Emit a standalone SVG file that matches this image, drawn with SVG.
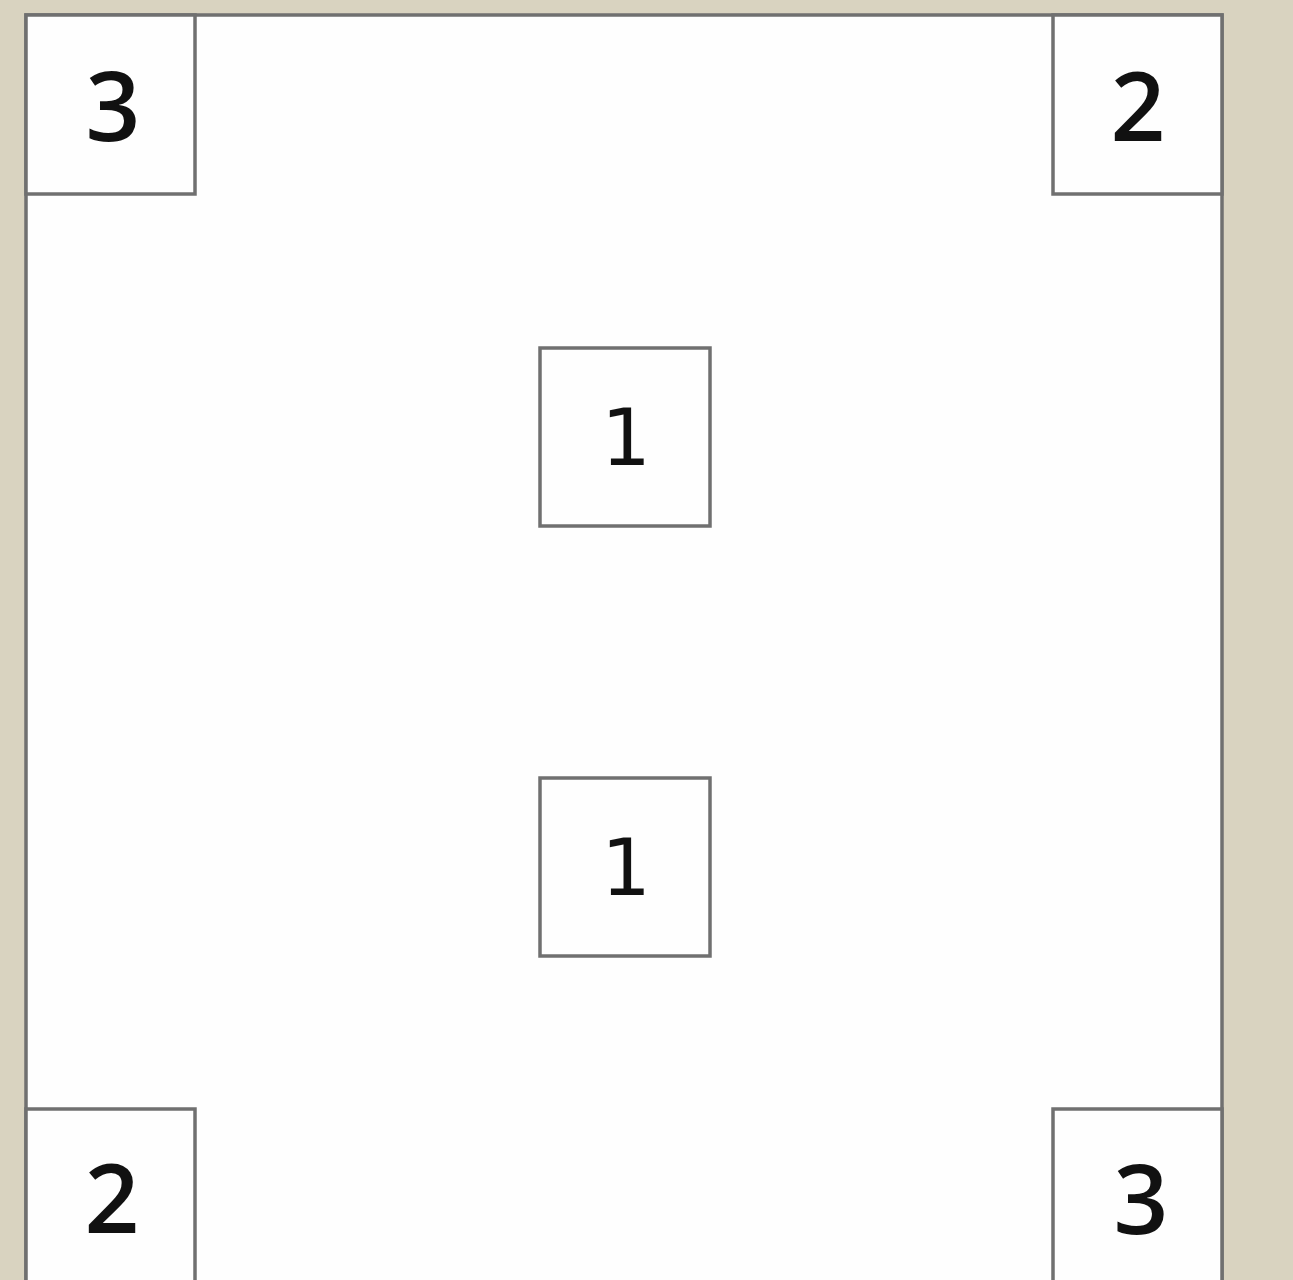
<svg xmlns="http://www.w3.org/2000/svg" width="1293" height="1280" viewBox="0 0 1293 1280">
<style>
.box{fill:#fefefe;stroke:#707070;stroke-width:3.5}
.big{font-family:"Open Sans","Noto Sans",sans-serif;font-weight:600;font-size:96px;fill:#111;text-anchor:middle}
.mid{font-family:"DejaVu Sans","Noto Sans",sans-serif;font-size:78px;fill:#111;text-anchor:middle}
</style>
<rect x="0" y="0" width="1293" height="1280" fill="#d9d3c0"/>
<g id="frame"><rect class="box" x="26" y="15" width="1196" height="1290"/></g>
<g id="n-tl"><rect class="box" x="26" y="15" width="169" height="179"/><text class="big" x="113" y="141">3</text></g>
<g id="n-tr"><rect class="box" x="1053" y="15" width="169" height="179"/><text class="big" x="1138" y="141">2</text></g>
<g id="n-m1"><rect class="box" x="540" y="348" width="170" height="178"/><text class="mid" x="626" y="465">1</text></g>
<g id="n-m2"><rect class="box" x="540" y="778" width="170" height="178"/><text class="mid" x="626" y="895">1</text></g>
<g id="n-bl"><rect class="box" x="26" y="1109" width="169" height="200"/><text class="big" x="112" y="1233">2</text></g>
<g id="n-br"><rect class="box" x="1053" y="1109" width="169" height="200"/><text class="big" x="1141" y="1234">3</text></g>
<g id="connectors"/>
</svg>
